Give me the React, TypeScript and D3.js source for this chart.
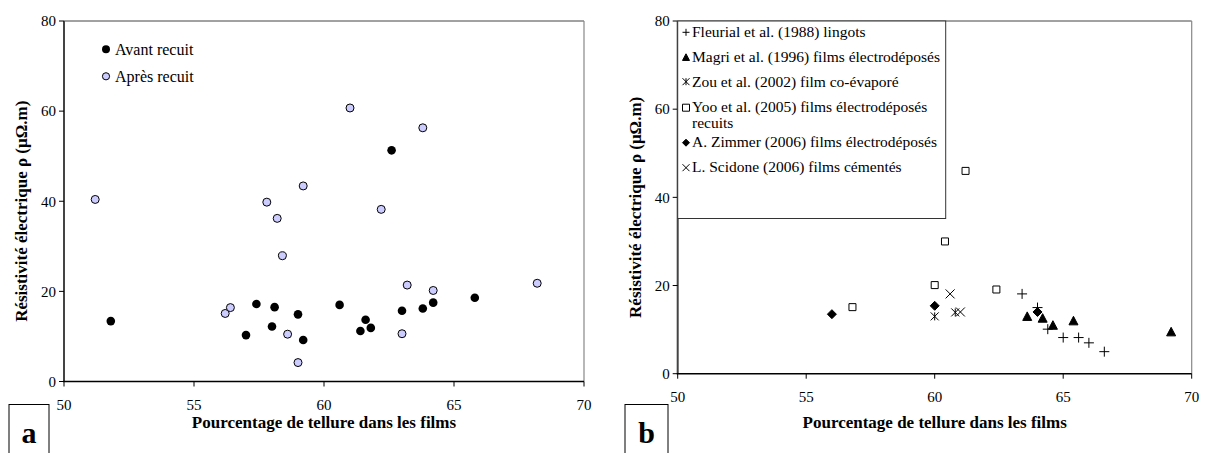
import React from 'react';
import * as d3 from 'd3';

// ---- Data: panel a ----
const avantRecuit: [number, number][] = [
  [51.8, 13.4], [57.0, 10.3], [57.4, 17.2], [58.0, 12.2], [58.1, 16.5],
  [59.0, 14.9], [59.2, 9.2], [60.6, 17.0], [61.4, 11.2], [61.6, 13.7],
  [61.8, 11.9], [62.6, 51.3], [63.0, 15.7], [63.8, 16.2], [64.2, 17.5], [65.8, 18.6],
];
const apresRecuit: [number, number][] = [
  [51.2, 40.4], [56.2, 15.1], [56.4, 16.4], [57.8, 39.8], [58.2, 36.2],
  [58.4, 27.9], [58.6, 10.5], [59.0, 4.2], [59.2, 43.4], [61.0, 60.7],
  [62.2, 38.2], [63.0, 10.6], [63.2, 21.4], [63.8, 56.3], [64.2, 20.2], [68.2, 21.8],
];

// ---- Data: panel b ----
const fleurial: [number, number][] = [
  [63.4, 18.1], [64.0, 15.0], [64.4, 10.1], [65.0, 8.2], [65.6, 8.2], [66.0, 7.0], [66.6, 5.0],
];
const magri: [number, number][] = [
  [63.6, 13.0], [64.2, 12.6], [64.6, 11.0], [65.4, 12.0], [69.2, 9.5],
];
const zou: [number, number][] = [[60.0, 13.0], [60.8, 13.9]];
const yoo: [number, number][] = [
  [56.8, 15.1], [60.0, 20.1], [60.4, 30.0], [61.2, 46.0], [62.4, 19.1],
];
const zimmer: [number, number][] = [[56.0, 13.5], [60.0, 15.4], [64.0, 14.0]];
const scidone: [number, number][] = [[60.6, 18.1], [61.0, 14.0]];

const xTicks = [50, 55, 60, 65, 70];
const yTicks = [0, 20, 40, 60, 80];

const legendA = ['Avant recuit', 'Après recuit'];
const legendB = [
  'Fleurial et al. (1988) lingots',
  'Magri et al. (1996) films électrodéposés',
  'Zou et al. (2002) film co-évaporé',
  'Yoo et al. (2005) films électrodéposés',
  'A. Zimmer (2006) films électrodéposés',
  'L. Scidone (2006) films cémentés',
];

const xTitle = 'Pourcentage de tellure dans les films';
const yTitle = 'Résistivité électrique ρ (μΩ.m)';

const FONT = '"Liberation Serif", "Times New Roman", serif';

type Shape = 'plus' | 'tri' | 'star' | 'square' | 'diamond' | 'cross';

function markerPath(shape: Shape, s: number): string {
  const h = s / 2;
  switch (shape) {
    case 'plus':
      return `M${-h},0H${h}M0,${-h}V${h}`;
    case 'cross':
      return `M${-h},${-h}L${h},${h}M${-h},${h}L${h},${-h}`;
    case 'star':
      return `M${-h},${-h}L${h},${h}M${-h},${h}L${h},${-h}M0,${-h}V${h}`;
    case 'tri':
      return `M0,${-h}L${h},${h * 0.9}L${-h},${h * 0.9}Z`;
    case 'square':
      return `M${-h},${-h}H${h}V${h}H${-h}Z`;
    case 'diamond':
      return `M0,${-h}L${h},0L0,${h}L${-h},0Z`;
  }
}

function Marker({ shape, x, y, s }: { shape: Shape; x: number; y: number; s: number }) {
  const filled = shape === 'tri' || shape === 'diamond';
  const fill = filled ? '#000' : shape === 'square' ? '#fff' : 'none';
  return (
    <path
      d={markerPath(shape, s)}
      transform={`translate(${x},${y})`}
      fill={fill}
      stroke="#000"
      strokeWidth={1}
    />
  );
}

function Axes({ x, y, label }: { x: d3.ScaleLinear<number, number>; y: d3.ScaleLinear<number, number>; label: string }) {
  const [x0, x1] = x.range();
  const [y0, y1] = y.range();
  const cx = (x0 + x1) / 2;
  const cy = (y0 + y1) / 2;
  return (
    <g fontFamily={FONT}>
      <line x1={x0} x2={x1} y1={y1} y2={y1} stroke="#444" strokeWidth={1} />
      <line x1={x1} x2={x1} y1={y1} y2={y0} stroke="#888" strokeWidth={1.2} />
      <line x1={x0} x2={x0} y1={y1} y2={y0} stroke="#444" strokeWidth={2} />
      <line x1={x0 - 1} x2={x1} y1={y0} y2={y0} stroke="#000" strokeWidth={1.5} />
      {yTicks.map((t) => (
        <g key={'y' + t}>
          <line x1={x0 - 5} x2={x0} y1={y(t)} y2={y(t)} stroke="#000" />
          <text x={x0 - 8} y={y(t)} dy="0.35em" textAnchor="end" fontSize={15}>
            {t}
          </text>
        </g>
      ))}
      {xTicks.map((t) => (
        <g key={'x' + t}>
          <line x1={x(t)} x2={x(t)} y1={y0} y2={y0 + 5} stroke="#000" />
          <text x={x(t)} y={y0 + 28} textAnchor="middle" fontSize={15}>
            {t}
          </text>
        </g>
      ))}
      <text x={cx} y={428} textAnchor="middle" fontSize={17} fontWeight="bold">
        {xTitle}
      </text>
      <text
        transform={`translate(${x0 - 43},${cy + 10}) rotate(-90)`}
        textAnchor="middle"
        dy="0.35em"
        fontSize={17}
        fontWeight="bold"
      >
        {yTitle}
      </text>
      <rect x={label === 'a' ? 9 : 625} y={404.5} width={label === 'a' ? 40 : 43} height={60} fill="#fff" stroke="#000" />
      <text x={label === 'a' ? 29 : 646.5} y={443} textAnchor="middle" fontSize={30} fontWeight="bold">
        {label}
      </text>
    </g>
  );
}

export default function App() {
  const xA = d3.scaleLinear().domain([50, 70]).range([64, 584]);
  const yA = d3.scaleLinear().domain([0, 80]).range([381.5, 21]);
  const xB = d3.scaleLinear().domain([50, 70]).range([677.7, 1191.7]);
  const yB = d3.scaleLinear().domain([0, 80]).range([373.7, 21]);

  const seriesB: { data: [number, number][]; shape: Shape; size: number }[] = [
    { data: fleurial, shape: 'plus', size: 10 },
    { data: magri, shape: 'tri', size: 9 },
    { data: zou, shape: 'star', size: 8 },
    { data: yoo, shape: 'square', size: 7 },
    { data: zimmer, shape: 'diamond', size: 9 },
    { data: scidone, shape: 'cross', size: 9 },
  ];
  const legendMarkerY = [32.3, 57.3, 81.7, 107.7, 142.7, 167.7];
  const legendTextY = [37, 62, 86.5, 112, 147, 172];

  return (
    <div style={{ position: 'absolute', left: 0, top: 0 }}>
      <svg width={1206} height={453} style={{ display: 'block', background: '#fff' }}>
        {/* Panel a */}
        <Axes x={xA} y={yA} label="a" />
        {avantRecuit.map((d, i) => (
          <circle key={'av' + i} cx={xA(d[0])} cy={yA(d[1])} r={4.3} fill="#000" />
        ))}
        {apresRecuit.map((d, i) => (
          <circle key={'ap' + i} cx={xA(d[0])} cy={yA(d[1])} r={4} fill="#CCCCFF" stroke="#000" strokeWidth={1} />
        ))}
        <g fontFamily={FONT} fontSize={16}>
          <circle cx={106} cy={49.3} r={4} fill="#000" />
          <text x={115} y={54.5}>{legendA[0]}</text>
          <circle cx={106} cy={76.3} r={3.6} fill="#CCCCFF" stroke="#000" />
          <text x={115} y={81.5}>{legendA[1]}</text>
        </g>

        {/* Panel b */}
        <Axes x={xB} y={yB} label="b" />
        {seriesB.map((s, si) =>
          s.data.map((d, i) => (
            <Marker key={si + '-' + i} shape={s.shape} x={xB(d[0])} y={yB(d[1])} s={s.size} />
          ))
        )}
        <rect x={677.7} y={21} width={268} height={197.5} fill="#fff" stroke="#333" strokeWidth={1} />
        <g fontFamily={FONT} fontSize={15.5}>
          {seriesB.map((s, i) => (
            <g key={'lg' + i}>
              <Marker shape={s.shape} x={686} y={legendMarkerY[i]} s={7} />
              <text x={692} y={legendTextY[i]}>{legendB[i]}</text>
            </g>
          ))}
          <text x={692} y={127.5}>recuits</text>
        </g>
      </svg>
    </div>
  );
}
